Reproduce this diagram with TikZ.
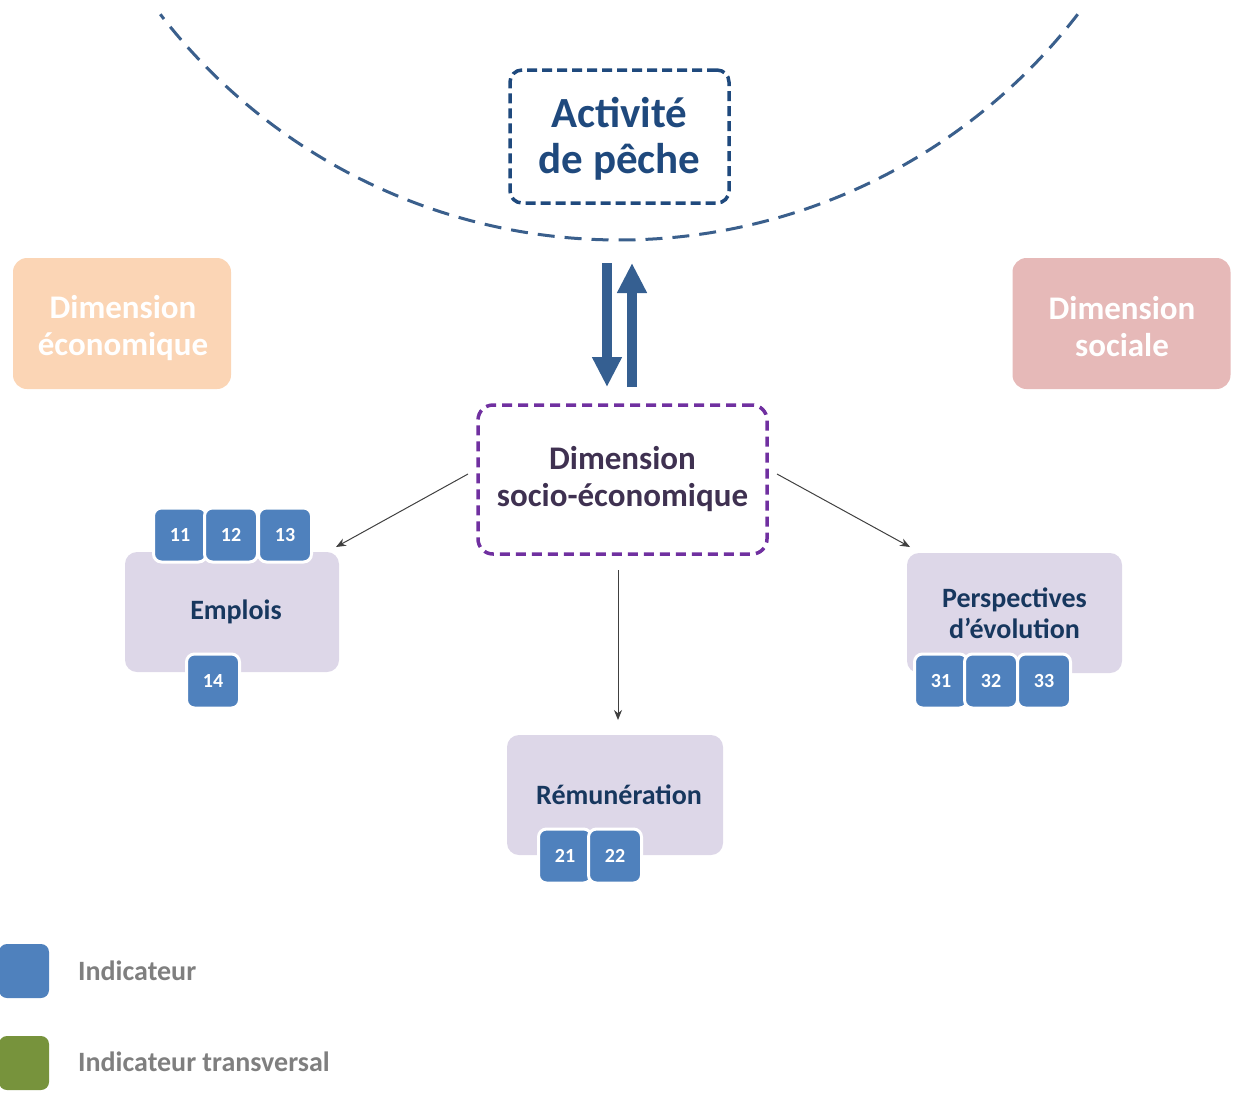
\documentclass[tikz,border=0pt]{standalone}
\usepackage{fontspec}
\setmainfont{Carlito}
\usetikzlibrary{arrows.meta}
\definecolor{arcblue}{RGB}{58,95,140}
\definecolor{actblue}{RGB}{31,73,125}
\definecolor{socpurple}{RGB}{112,48,160}
\definecolor{soctext}{RGB}{63,49,81}
\definecolor{peach}{RGB}{251,213,181}
\definecolor{rosy}{RGB}{230,185,184}
\definecolor{bigarrowblue}{RGB}{53,95,145}
\definecolor{lavender}{RGB}{221,215,232}
\definecolor{navytext}{RGB}{23,55,94}
\definecolor{indblue}{RGB}{79,129,189}
\definecolor{transgreen}{RGB}{119,147,60}
\definecolor{legendgray}{RGB}{127,127,127}
\definecolor{thingray}{RGB}{64,64,64}
\tikzset{
  dimbox/.style={rounded corners=14pt, minimum width=218pt, minimum height=131pt, inner sep=0pt},
  dimtext/.style={text=white, font=\fontsize{33}{37}\selectfont\bfseries, align=center, inner sep=0pt},
  catbox/.style={fill=lavender, rounded corners=12pt, minimum width=214pt, minimum height=120pt,
    text=navytext, font=\fontsize{28}{31}\selectfont\bfseries, align=center, inner sep=0pt},
  indbox/.style={fill=indblue, draw=white, line width=3pt, rounded corners=8pt, minimum width=53pt,
    minimum height=54pt, text=white, font=\fontsize{20}{20}\selectfont\bfseries, inner sep=0pt},
  legbox/.style={rounded corners=8pt, minimum width=50pt, minimum height=54pt, inner sep=0pt},
  legtext/.style={anchor=west, text=legendgray, font=\fontsize{28}{30}\selectfont\bfseries, inner sep=0pt},
  bigarrow/.style={draw=bigarrowblue, line width=10pt, -{Triangle[width=28pt,length=30pt]}, fill=bigarrowblue},
  thinarrow/.style={draw=thingray, line width=1pt, -{Stealth[width=8pt,length=10pt]}},
}
\begin{document}
\begin{tikzpicture}[x=1pt,y=-1pt]
\useasboundingbox (0,0) rectangle (1236,1096);

% big dashed arc
\draw[arcblue, line width=3pt, dash pattern=on 17pt off 10pt]
  (619,-339) ++(37.6:579) arc[start angle=37.6, end angle=142.4, radius=579];

% Activite de peche
\node[draw=actblue, line width=3.5pt, dash pattern=on 10pt off 5pt, rounded corners=12pt,
  minimum width=219pt, minimum height=133pt, inner sep=0pt] (act) at (619.5,136.5) {};
\node[align=center, text=actblue, inner sep=0pt,
  font=\fontsize{43}{46}\selectfont\bfseries] (actt) at (619.5,138.5) {Activité\\de pêche};

% side dimensions
\node[dimbox, fill=peach] (eco) at (122,323.5) {};
\node[dimtext] (ecot) at (123,328) {Dimension\\économique};
\node[dimbox, fill=rosy] (soc) at (1121.5,323.5) {};
\node[dimtext] (soct) at (1122,327) {Dimension\\sociale};

% double arrow
\coordinate (d1) at (607,263);
\coordinate (d2) at (607,387);
\coordinate (u1) at (632,387);
\coordinate (u2) at (632,263);
\draw[bigarrow] (d1) -- (d2);
\draw[bigarrow] (u1) -- (u2);

% socio-economique
\node[draw=socpurple, line width=3.5pt, dash pattern=on 10pt off 6pt, rounded corners=15pt,
  minimum width=289pt, minimum height=149pt, inner sep=0pt, align=center, text=soctext,
  font=\fontsize{33}{37}\selectfont\bfseries] (se) at (622.5,479.5) {Dimension\\socio-économique};

% categories
\node[catbox] (emp) at (232,612) {\hspace*{8pt}Emplois};
\node[catbox, minimum width=215pt] (per) at (1014.5,613) {Perspectives\\d’évolution};
\node[catbox, minimum width=216pt] (rem) at (615,795) {\hspace*{8pt}Rémunération};

% indicators
\node[indbox] (i11) at (180,535) {11};
\node[indbox] (i12) at (231,535) {12};
\node[indbox] (i13) at (285,535) {13};
\node[indbox] (i14) at (213,681) {14};
\node[indbox] (i31) at (941,681) {31};
\node[indbox] (i32) at (991,681) {32};
\node[indbox] (i33) at (1044,681) {33};
\node[indbox] (i21) at (565,856) {21};
\node[indbox] (i22) at (615,856) {22};

% thin arrows
\coordinate (la) at (468,474);
\coordinate (lb) at (336,547);
\coordinate (ra) at (777,474);
\coordinate (rb) at (910,547);
\coordinate (ma) at (618,570);
\coordinate (mb) at (618,720);
\draw[thinarrow] (la) -- (lb);
\draw[thinarrow] (ra) -- (rb);
\draw[thinarrow] (ma) -- (mb);

% legend
\node[legbox, fill=indblue] (lg1) at (24,971) {};
\node[legtext] (lt1) at (78,971) {Indicateur};
\node[legbox, fill=transgreen] (lg2) at (24,1063) {};
\node[legtext] (lt2) at (78,1062) {Indicateur transversal};
\end{tikzpicture}
\end{document}
